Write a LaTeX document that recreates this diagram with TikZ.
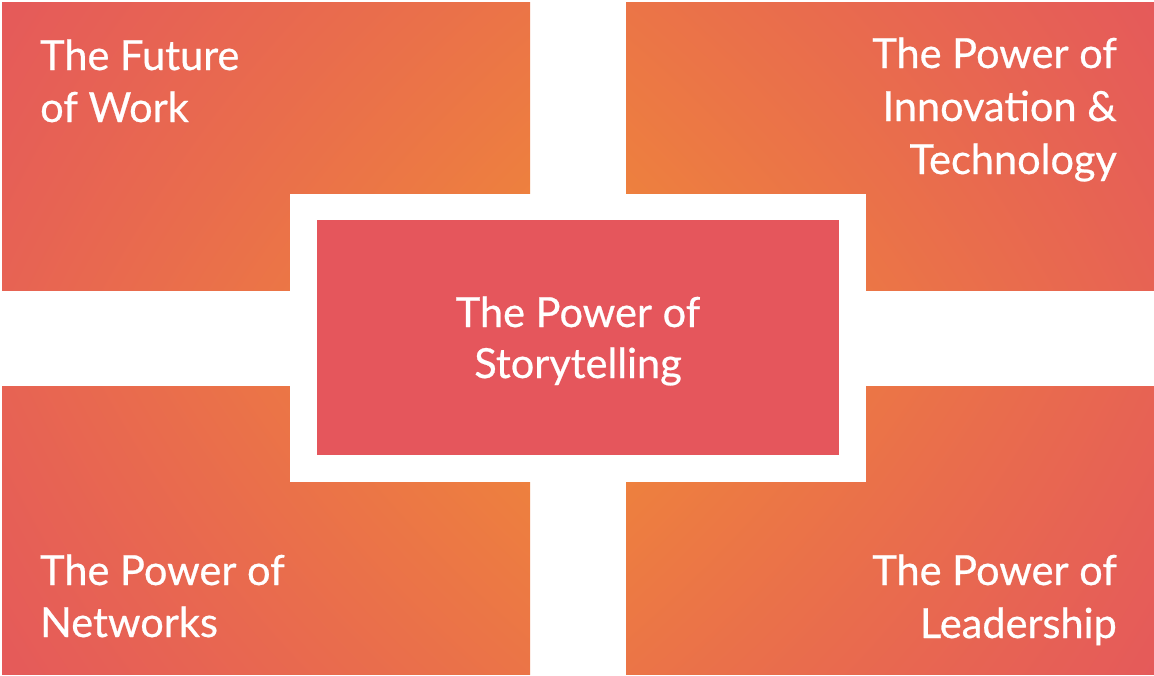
\documentclass[tikz,border=0pt]{standalone}
\usepackage{fontspec}
\usetikzlibrary{shadings}
\setmainfont{Lato}
\newfontfamily\lblfont{Lato}[FakeBold=0.6]
\definecolor{cred}{HTML}{E55A5A}
\definecolor{corange}{HTML}{EF863A}
\colorlet{cnear}{corange!60!cred}
\colorlet{cfar}{corange!20!cred}
\definecolor{cbox}{HTML}{E5565C}
\tikzset{
  shadeTL/.style={upper left=cred, lower right=corange, upper right=cnear, lower left=cfar},
  shadeTR/.style={upper right=cred, lower left=corange, upper left=cnear, lower right=cfar},
  shadeBL/.style={lower left=cred, upper right=corange, lower right=cnear, upper left=cfar},
  shadeBR/.style={lower right=cred, upper left=corange, lower left=cnear, upper right=cfar},
  lbl/.style={text=white, inner sep=0pt, font=\lblfont\fontsize{41.5}{52}\selectfont},
}
\newcommand\rlines[1]{\vtop{\baselineskip=53pt\halign{\hfil##\cr#1}}}
\newcommand\llines[1]{\vtop{\baselineskip=52pt\halign{##\hfil\cr#1}}}
\newcommand\clines[1]{\vtop{\baselineskip=51pt\halign{\hfil##\hfil\cr#1}}}
\begin{document}
\begin{tikzpicture}[x=1pt,y=-1pt]
\useasboundingbox (0,0) rectangle (1154,675);
\fill[white] (0,0) rectangle (1154,675);
\shade[shadeTL] (2,2) rectangle (530,290);
\shade[shadeTR] (626,2) rectangle (1154,290);
\shade[shadeBL] (2,386) rectangle (530,674);
\shade[shadeBR] (626,386) rectangle (1154,674);
\fill[white] (290,194) rectangle (866,482);
\fill[cbox] (317,220) rectangle (839,455);
\node[lbl, anchor=base west] (work) at (40,70) {\llines{The Future\cr of Work\cr}};
\node[lbl, anchor=base east] (innov) at (1117,68) {\rlines{The Power of\cr Innovation \&\cr Technology\cr}};
\node[lbl, anchor=base west] (net) at (40,585) {\llines{The Power of\cr Networks\cr}};
\node[lbl, anchor=base east] (lead) at (1117,585) {\rlines{The Power of\cr Leadership\cr}};
\node[lbl, anchor=base] (story) at (578,327) {\clines{The Power of\cr Storytelling\cr}};
\end{tikzpicture}
\end{document}
